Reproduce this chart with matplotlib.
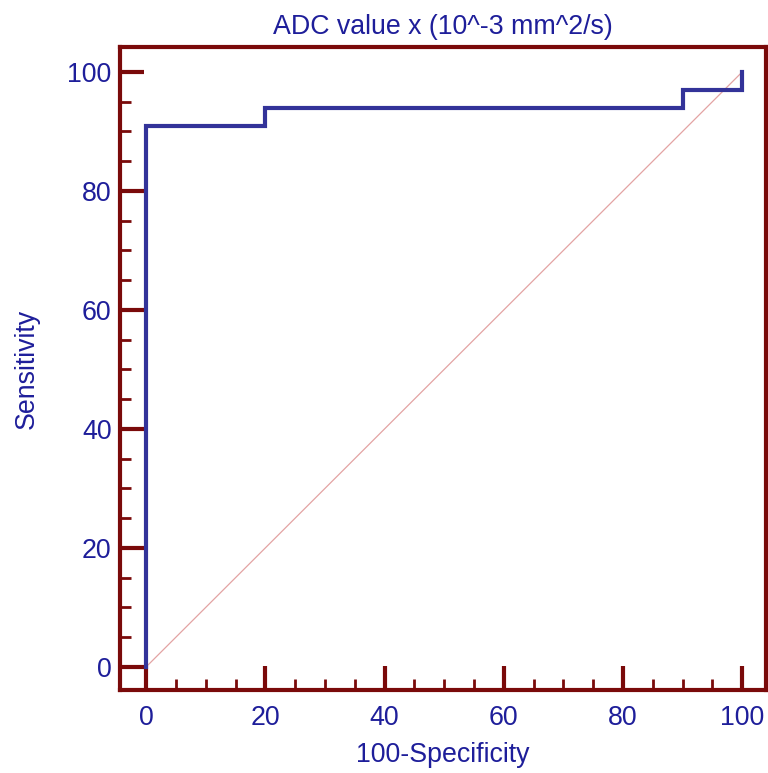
import matplotlib
matplotlib.use("Agg")
import matplotlib.pyplot as plt

# ROC curve data (100-Specificity, Sensitivity)
fpr = [0, 0, 20, 20, 90, 90, 100, 100]
tpr = [0, 90.9, 90.9, 93.9, 93.9, 97.0, 97.0, 100]
diag = [0, 100]
major_ticks = [0, 20, 40, 60, 80, 100]
minor_ticks = [v for v in range(5, 100, 5) if v % 20]

title = "ADC value x (10^-3 mm^2/s)"
xlabel = "100-Specificity"
ylabel = "Sensitivity"

plt.rcParams['font.family'] = ['Liberation Sans', 'DejaVu Sans']
spine_c = '#7A0A0A'
text_c = '#1E1E9A'
line_c = '#333399'
fs = 19.3

fig = plt.figure(figsize=(7.68, 7.73), dpi=100)
ax = fig.add_axes([120/768, 1-690/773, 646/768, 643/773])

ax.plot(diag, diag, color='#E3A3A3', lw=0.9, zorder=1)
ax.plot(fpr, tpr, color=line_c, lw=3.0, solid_joinstyle='miter', zorder=3)

ax.set_xlim(-4.4, 104.0)
ax.set_ylim(-3.9, 104.2)

ax.set_xticks(major_ticks)
ax.set_yticks(major_ticks)
ax.set_xticks(minor_ticks, minor=True)
ax.set_yticks(minor_ticks, minor=True)

for s in ax.spines.values():
    s.set_color(spine_c)
    s.set_linewidth(3)

ax.tick_params(which='major', direction='in', length=17, width=3, color=spine_c,
               labelsize=fs, labelcolor=text_c, top=False, right=False)
ax.tick_params(which='minor', direction='in', length=8, width=2, color=spine_c,
               top=False, right=False)
ax.tick_params(axis='x', which='major', pad=11)
ax.tick_params(axis='y', which='major', pad=6)

ax.set_title(title, fontsize=fs, color=text_c, pad=9)
ax.set_xlabel(xlabel, fontsize=fs, color=text_c, labelpad=8)
ax.set_ylabel(ylabel, fontsize=fs, color=text_c, labelpad=20)

fig.savefig("out.png", dpi=100)
